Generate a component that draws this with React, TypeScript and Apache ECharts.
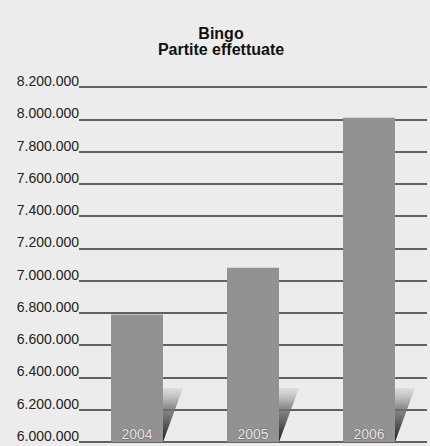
import React, { useEffect, useRef } from "react";
import * as echarts from "echarts";

const title = "Bingo\nPartite effettuate";
const years = ["2004", "2005", "2006"];
const games = [6790000, 7080000, 8010000];
const yMin = 6000000;
const yMax = 8200000;
const yStep = 200000;

const fmtIt = (v: number) => String(Math.round(v)).replace(/\B(?=(\d{3})+(?!\d))/g, ".");

export default function App() {
  const ref = useRef<HTMLDivElement>(null);

  useEffect(() => {
    if (!ref.current) return;
    const chart = echarts.init(ref.current, null, { renderer: "svg" });
    chart.setOption({
      animation: false,
      backgroundColor: "#ececec",
      textStyle: { fontFamily: "Liberation Sans, Arial, sans-serif" },
      title: {
        text: title,
        left: 216,
        top: 20,
        textAlign: "center",
        textStyle: {
          fontSize: 16,
          fontWeight: "bold",
          color: "#111",
          lineHeight: 16,
          fontFamily: "Liberation Sans, Arial, sans-serif",
        },
      },
      grid: { left: 79, right: 3, top: 87, bottom: 4, containLabel: false },
      xAxis: {
        type: "category",
        data: years,
        axisLine: { show: false },
        axisTick: { show: false },
        axisLabel: { show: false },
        splitLine: { show: false },
      },
      yAxis: {
        type: "value",
        min: yMin,
        max: yMax,
        interval: yStep,
        axisLine: { show: false },
        axisTick: { show: false },
        axisLabel: {
          formatter: (v: number) => fmtIt(v),
          fontSize: 14,
          color: "#222",
          margin: 0,
          verticalAlign: "bottom",
          lineHeight: 12,
        },
        splitLine: { show: true, lineStyle: { color: "#333", width: 1.5 } },
      },
      series: [
        {
          type: "bar",
          data: games,
          barWidth: 52,
          itemStyle: { color: "#929292" },
          z: 3,
          label: {
            show: true,
            position: "insideBottom",
            distance: 1,
            formatter: (p: any) => p.name,
            fontSize: 14,
            color: "#e8e8e8",
            textBorderColor: "#6a6a6a",
            textBorderWidth: 1,
          },
        },
        {
          // shadow wedge cast at the foot of each bar
          type: "custom",
          data: years.map((_, i) => [i, yMin]),
          z: 2,
          silent: true,
          renderItem: (params: any, api: any) => {
            const idx = api.value(0);
            const base = api.coord([idx, yMin]);
            const top = api.coord([idx, yMin + 335000]);
            const xr = base[0] + 26;
            return {
              type: "polygon",
              shape: {
                points: [
                  [xr, base[1]],
                  [xr, top[1]],
                  [xr + 20, top[1]],
                ],
              },
              style: {
                fill: new echarts.graphic.LinearGradient(0, 0, 0, 1, [
                  { offset: 0, color: "rgba(210,210,210,0.5)" },
                  { offset: 0.35, color: "rgba(120,120,120,0.8)" },
                  { offset: 1, color: "#1a1a1a" },
                ]),
              },
            };
          },
        },
      ],
    });
    return () => chart.dispose();
  }, []);

  return <div ref={ref} style={{ width: 430, height: 446, position: "absolute", left: 0, top: 0 }} />;
}
